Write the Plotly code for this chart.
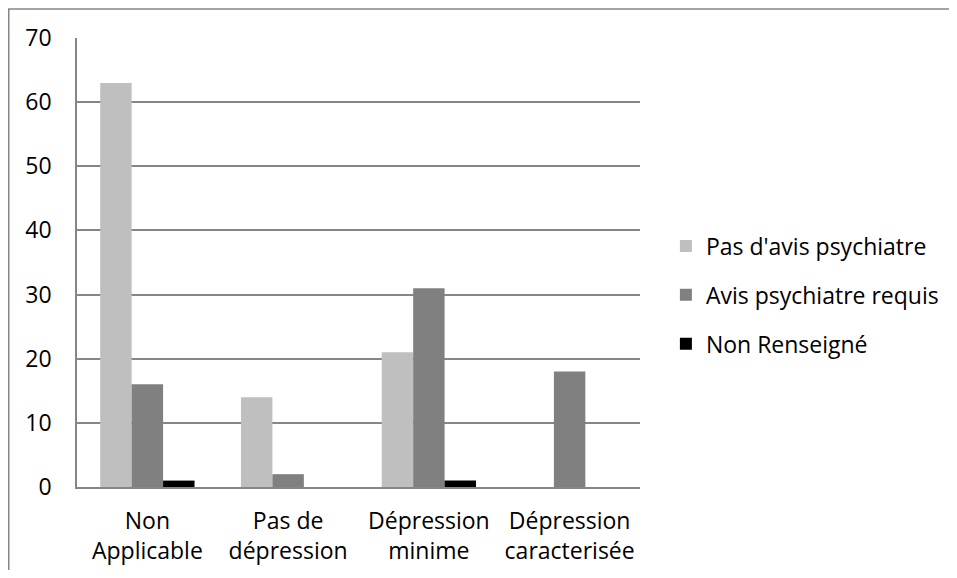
import plotly.graph_objects as go

categories = ["Non<br>Applicable", "Pas de<br>dépression", "Dépression<br>minime", "Dépression<br>caracterisée"]
series_names = ["Pas d'avis psychiatre", "Avis psychiatre requis", "Non Renseigné"]
pas_avis = [63, 14, 21, 0]
avis_requis = [16, 2, 31, 18]
non_renseigne = [1, 0, 1, 0]
colors = ["#BFBFBF", "#808080", "#000000"]
y_ticks = [0, 10, 20, 30, 40, 50, 60, 70]

fig = go.Figure()
for i, (name, vals) in enumerate(zip(series_names, [pas_avis, avis_requis, non_renseigne])):
    fig.add_trace(go.Bar(x=categories, y=vals, name=name, legendgroup=str(i),
                         marker=dict(color=colors[i], line=dict(width=0))))

grid = "#868686"
# page is offset by the browser's 8px body margin
W, H = 941, 562
L, T = 69, 30
PW, PH = 563, 449
fig.update_layout(
    width=W, height=H,
    margin=dict(l=L, r=W - L - PW, t=T, b=H - T - PH, autoexpand=False),
    paper_bgcolor="white", plot_bgcolor="white",
    barmode="group", bargap=0.33, bargroupgap=0,
    font=dict(family="Open Sans", size=23, color="#000000"),
    legend=dict(x=1.046, y=0.4276, xanchor="left", yanchor="middle",
                tracegroupgap=16, font=dict(size=23), itemwidth=30),
    xaxis=dict(showline=True, linecolor=grid, linewidth=1.5, ticks="", automargin=False,
               ticklabelstandoff=13, showgrid=False),
    yaxis=dict(range=[0, 70], tickvals=y_ticks, showline=True, linecolor=grid, linewidth=1.5,
               showgrid=True, gridcolor=grid, gridwidth=1.5, ticks="", automargin=False,
               ticklabelstandoff=19, zeroline=False),
    shapes=[dict(type="rect", xref="paper", yref="paper",
                 x0=(0.75 - L) / PW, x1=1.7, y0=-0.4, y1=(T + PH - 1) / PH,
                 line=dict(color=grid, width=1.5), fillcolor="rgba(0,0,0,0)", layer="below")],
)
fig.write_html("out.html")
